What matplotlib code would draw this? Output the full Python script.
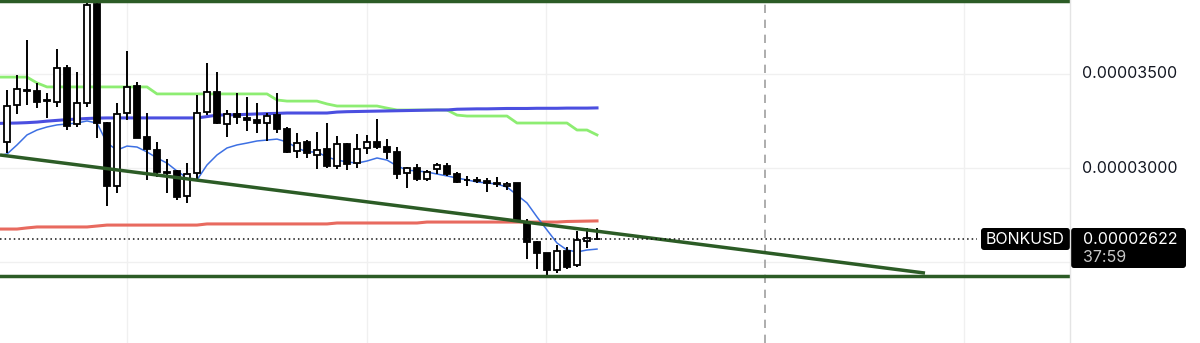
import numpy as np
import matplotlib
matplotlib.use("Agg")
import matplotlib.pyplot as plt
import matplotlib.transforms as mtransforms
from matplotlib.patches import FancyBboxPatch

plt.rcParams['font.family'] = ['Inter', 'DejaVu Sans']

# prices are kept in units of 1e-8 USD (3500 -> 0.00003500)
opens = [3138, 3333, 3413, 3407, 3360, 3349, 3529, 3233, 3344, 3868,
         3238, 2905, 3291, 3434, 3164, 3095, 2979, 2984, 2852, 2974,
         3296, 3402, 3233, 3286, 3265, 3254, 3238, 3280, 3206, 3090,
         3138, 3069, 3101, 3011, 3127, 3026, 3106, 3138, 3111, 3085,
         2974, 3000, 2942, 2995, 3011, 2968, 2937, 2937, 2931, 2923,
         2905, 2921, 2714, 2608, 2550, 2460, 2561, 2487, 2614, 2624]
highs = [3413, 3492, 3677, 3450, 3397, 3630, 3545, 3508, 3900, 3900,
         3243, 3344, 3619, 3455, 3291, 3138, 3048, 2989, 3026, 3386,
         3556, 3508, 3307, 3397, 3376, 3344, 3291, 3397, 3217, 3185,
         3148, 3190, 3238, 3169, 3132, 3180, 3175, 3259, 3153, 3111,
         3005, 3021, 2989, 3026, 3026, 2979, 2958, 2952, 2947, 2952,
         2926, 2921, 2730, 2614, 2550, 2593, 2582, 2667, 2683, 2683]
lows = [3079, 3286, 3333, 3317, 3265, 3323, 3201, 3217, 3323, 3159,
        2799, 2868, 3254, 3159, 2937, 2952, 2868, 2831, 2815, 2937,
        3280, 3233, 3164, 3233, 3196, 3185, 3143, 3185, 3079, 3053,
        3053, 2995, 3000, 2995, 2989, 3000, 3074, 3101, 3048, 2942,
        2894, 2931, 2931, 2968, 2958, 2921, 2905, 2921, 2873, 2899,
        2884, 2720, 2519, 2466, 2423, 2444, 2466, 2476, 2577, 2619]
closes = [3328, 3418, 3407, 3349, 3357, 3529, 3222, 3344, 3862, 3238,
          2905, 3286, 3429, 3159, 3101, 2979, 2976, 2847, 2968, 3291,
          3402, 3238, 3286, 3270, 3254, 3238, 3275, 3206, 3085, 3132,
          3079, 3095, 3011, 3127, 3021, 3101, 3138, 3111, 3085, 2968,
          3000, 2942, 2979, 3016, 2968, 2926, 2934, 2931, 2921, 2918,
          2915, 2720, 2608, 2550, 2460, 2561, 2476, 2619, 2630, 2622]

# indicator lines start one bar before the first candle
baseline = [3481] * 4 + [3450] + [3429] * 11 + [3392] * 12 + [3360] + [3354] * 4 + \
           [3339] + [3328] * 5 + [3317] + [3307] * 6 + [3280] + [3275] * 5 + \
           [3238] * 6 + [3201] * 2 + [3175]
ma_mid = [3236, 3237, 3238, 3240, 3243, 3248, 3252, 3256, 3259, 3262, 3264] + [3265] * 10 + \
         [3272, 3280, 3281, 3282, 3284, 3286, 3288, 3289] + [3291] * 5 + [3296] + \
         [3298, 3299, 3300, 3301, 3302, 3303, 3304, 3305, 3306, 3307] + [3307] + \
         [3311, 3312, 3313, 3313, 3314, 3315] + \
         [3315, 3315, 3316, 3316, 3316, 3317, 3317, 3317, 3318]
ma_long = [2677] * 3 + [2683] + [2688] * 6 + [2693] + [2698] * 10 + [2704] * 13 + \
          [2709] * 9 + [2714] * 14 + [2717, 2718, 2719, 2720]
ema_fast = [3064, 3074, 3122, 3175, 3201, 3217, 3228, 3233, 3238, 3249, 3238,
            3132, 3095, 3116, 3111, 3085, 3053, 3026, 2984, 2947, 2937,
            3016, 3069, 3106, 3122, 3132, 3143, 3148, 3153, 3138, 3106,
            3085, 3085, 3058, 3042, 3032, 3026, 3037, 3053, 3042, 3011,
            2989, 2984, 2979, 2968, 2958, 2947, 2937, 2926, 2921, 2915,
            2899, 2857, 2815, 2741, 2672, 2603, 2566, 2556, 2566, 2571]

symbol = "BONKUSD"
last_price = 2622
countdown = "37:59"
support = 2429
resistance = 3884
trend_x = [-0.7, 91.8]
trend_y = [3069, 2444]
grid_x = [12, 36, 53.9, 95.7]
grid_y = [3500, 3000, 2500]
tick_vals = [3500, 3000]
session_x = 75.8

W, H = 1200, 343
fig = plt.figure(figsize=(W / 100, H / 100), dpi=100)
fig.patch.set_facecolor('white')
ax = fig.add_axes([0, 0, 1070 / W, 1])
ax.set_xlim(-0.7, 106.3)
ax.set_ylim(2074, 3889)
for s in ax.spines.values():
    s.set_visible(False)
ax.set_xticks([])
ax.set_yticks([])

for gx in grid_x:
    ax.axvline(gx, color='#f0f0f0', lw=1, zorder=0)
for gy in grid_y:
    ax.axhline(gy, color='#f0f0f0', lw=1, zorder=0)

ax.axvline(session_x, color='#a0a0a0', lw=1.2, dashes=(5, 4), zorder=1)

xl = np.arange(-1, len(opens))
ax.plot(xl, baseline, color='#8ded72', lw=2, zorder=2)
ax.plot(xl, ma_mid, color='#4b4fe0', lw=2.2, zorder=2)
ax.plot(xl, ma_long, color='#e86a5f', lw=2.2, zorder=2)
ax.plot(xl, ema_fast, color='#3d70e3', lw=1.1, zorder=2)

# candles
o = np.array(opens, float)
h = np.array(highs, float)
l = np.array(lows, float)
c = np.array(closes, float)
x = np.arange(len(o))
up = c >= o
bottom = np.minimum(o, c)
height = np.maximum(np.abs(c - o), 1.5)
ax.vlines(x, l, h, color='black', lw=1.4, zorder=3)
ax.bar(x, height, bottom=bottom, width=0.68,
       color=np.where(up, 'white', 'black'), edgecolor='black', linewidth=1.3, zorder=4)

# drawings
green_dark = '#2c5c26'
ax.plot(trend_x, trend_y, color=green_dark, lw=2.5, solid_capstyle='butt', zorder=5)
ax.axhline(support, color=green_dark, lw=2.5, zorder=5)
ax.axhline(resistance, color=green_dark, lw=2.5, zorder=5)
ax.plot([-0.7, 97], [last_price, last_price], color='#111111', lw=1.1,
        linestyle=(0, (1, 2)), zorder=5)

# price scale
fig.add_artist(plt.Line2D([1070 / W, 1070 / W], [0, 1], color='#e4e4e4', lw=1))
tr = mtransforms.blended_transform_factory(fig.transFigure, ax.transData)
for v in tick_vals:
    fig.text(1082 / W, v, f"{v * 1e-8:.8f}", transform=tr, ha='left', va='center',
             fontsize=11.5, color='#131722')

ident = mtransforms.IdentityTransform()
box1 = FancyBboxPatch((981, H - 250), 89, 22, boxstyle='round,pad=0,rounding_size=3',
                      fc='black', ec='none', transform=ident)
box2 = FancyBboxPatch((1071, H - 268), 115, 40, boxstyle='round,pad=0,rounding_size=3',
                      fc='black', ec='none', transform=ident)
fig.add_artist(box1)
fig.add_artist(box2)
fig.text(1025 / W, 1 - 239 / H, symbol, ha='center', va='center', fontsize=11.5, color='white')
fig.text(1083 / W, 1 - 239 / H, f"{last_price * 1e-8:.8f}", ha='left', va='center',
         fontsize=11.5, color='white')
fig.text(1083 / W, 1 - 257.5 / H, countdown, ha='left', va='center', fontsize=11.5, color='#c8c8c8')

fig.savefig('out.png', dpi=100)
